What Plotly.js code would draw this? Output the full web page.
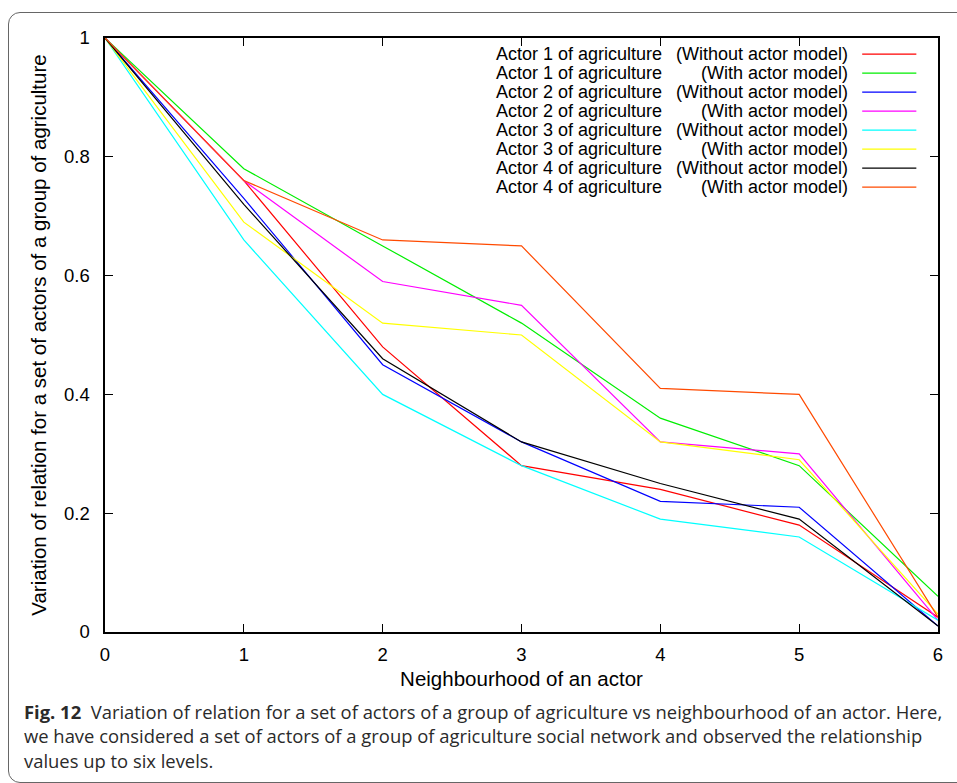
<!DOCTYPE html>
<html>
<head>
<meta charset="utf-8">
<script src="https://cdn.plot.ly/plotly-3.0.1.min.js"></script>
<style>
  html, body { margin: 0; padding: 0; background: #fff; }
  #chart { width: 957px; height: 783px; }
  #frame {
    position: absolute; left: 8px; top: 12px; width: 1000px; height: 769px;
    border: 1px solid #666; border-radius: 12px; pointer-events: none;
  }
</style>
</head>
<body>
<div id="chart"></div>
<div id="frame"></div>
<script>
"use strict";

// neighbourhood levels
const levels = [0, 1, 2, 3, 4, 5, 6];

// values
const actor1Without = [1, 0.76, 0.48, 0.28, 0.24, 0.18, 0.025];
const actor1With    = [1, 0.78, 0.65, 0.52, 0.36, 0.28, 0.06];
const actor2Without = [1, 0.73, 0.45, 0.32, 0.22, 0.21, 0.01];
const actor2With    = [1, 0.76, 0.59, 0.55, 0.32, 0.30, 0.02];
const actor3Without = [1, 0.66, 0.40, 0.28, 0.19, 0.16, 0.02];
const actor3With    = [1, 0.69, 0.52, 0.50, 0.32, 0.29, 0.03];
const actor4Without = [1, 0.72, 0.46, 0.32, 0.25, 0.19, 0.01];
const actor4With    = [1, 0.76, 0.66, 0.65, 0.41, 0.40, 0.025];

const seriesValues = [actor1Without, actor1With, actor2Without, actor2With,
                      actor3Without, actor3With, actor4Without, actor4With];
const seriesActors = ["Actor 1 of agriculture", "Actor 1 of agriculture",
                      "Actor 2 of agriculture", "Actor 2 of agriculture",
                      "Actor 3 of agriculture", "Actor 3 of agriculture",
                      "Actor 4 of agriculture", "Actor 4 of agriculture"];
const seriesModels = ["(Without actor model)", "(With actor model)",
                      "(Without actor model)", "(With actor model)",
                      "(Without actor model)", "(With actor model)",
                      "(Without actor model)", "(With actor model)"];
const seriesColors = ["#ff0000", "#00ee00", "#0000ff", "#ff00ff",
                      "#00ffff", "#ffff00", "#000000", "#ff4a00"];

const xTickLabels = ["0", "1", "2", "3", "4", "5", "6"];
const yTickValues = [0, 0.2, 0.4, 0.6, 0.8, 1];
const yTickLabels = ["0", "0.2", "0.4", "0.6", "0.8", "1"];

const captionLines = [
    "<b>Fig. 12</b>  Variation of relation for a set of actors of a group of agriculture vs neighbourhood of an actor. Here,",
    "we have considered a set of actors of a group of agriculture social network and observed the relationship",
    "values up to six levels."
];

const chartFont = "Liberation Sans, Arial, sans-serif";
const captionFont = "Open Sans, Noto Sans, sans-serif";

var traces = [];
for (var i = 0; i < seriesValues.length; i++) {
    traces.push({
        x: levels,
        y: seriesValues[i],
        type: "scatter",
        mode: "lines",
        name: seriesActors[i] + " " + seriesModels[i],
        line: { color: seriesColors[i], width: 1.2 },
        showlegend: false
    });
}

// gnuplot style key: text on the left, line sample on the right
var annotations = [];
var shapes = [];
const keyTop = 0.973;
const keyStep = 0.032;
for (var i = 0; i < seriesValues.length; i++) {
    const rowY = keyTop - i * keyStep;
    annotations.push({
        xref: "paper", yref: "paper", x: 0.467, y: rowY,
        xanchor: "left", yanchor: "middle", showarrow: false,
        text: seriesActors[i], font: { family: chartFont, size: 18, color: "#000" }
    });
    annotations.push({
        xref: "paper", yref: "paper", x: 0.894, y: rowY,
        xanchor: "right", yanchor: "middle", showarrow: false,
        text: seriesModels[i], font: { family: chartFont, size: 18, color: "#000" }
    });
    shapes.push({
        type: "line", xref: "paper", yref: "paper",
        x0: 0.909, x1: 0.974, y0: rowY, y1: rowY,
        line: { color: seriesColors[i], width: 1.2 }
    });
}

const captionY = [-0.133, -0.175, -0.217];
for (var i = 0; i < captionLines.length; i++) {
    annotations.push({
        xref: "paper", yref: "paper", x: -0.1, y: captionY[i],
        xanchor: "left", yanchor: "middle", showarrow: false, align: "left",
        text: captionLines[i], font: { family: captionFont, size: 18.4, color: "#2a2a2a" }
    });
}

var layout = {
    width: 957,
    height: 783,
    margin: { l: 105, r: 19, t: 38, b: 151 },
    paper_bgcolor: "#fff",
    plot_bgcolor: "#fff",
    showlegend: false,
    font: { family: chartFont, size: 18.5, color: "#000" },
    xaxis: {
        range: [0, 6],
        tickvals: levels,
        ticktext: xTickLabels,
        ticks: "inside",
        ticklen: 8,
        tickwidth: 1.2,
        tickcolor: "#000",
        showline: true,
        linecolor: "#000",
        linewidth: 1.6,
        mirror: "ticks",
        showgrid: false,
        zeroline: false,
        ticklabelstandoff: 5,
        title: { text: "Neighbourhood of an actor", font: { family: chartFont, size: 20.5 }, standoff: 8 }
    },
    yaxis: {
        range: [0, 1],
        tickvals: yTickValues,
        ticktext: yTickLabels,
        ticks: "inside",
        ticklen: 8,
        tickwidth: 1.2,
        tickcolor: "#000",
        showline: true,
        linecolor: "#000",
        linewidth: 1.6,
        mirror: "ticks",
        showgrid: false,
        zeroline: false,
        ticklabelstandoff: 10,
        title: { text: "Variation of relation for a set of actors of a group of agriculture", font: { family: chartFont, size: 20.5 }, standoff: 12 }
    },
    annotations: annotations,
    shapes: shapes
};

Plotly.newPlot("chart", traces, layout, { staticPlot: true });
</script>
</body>
</html>
